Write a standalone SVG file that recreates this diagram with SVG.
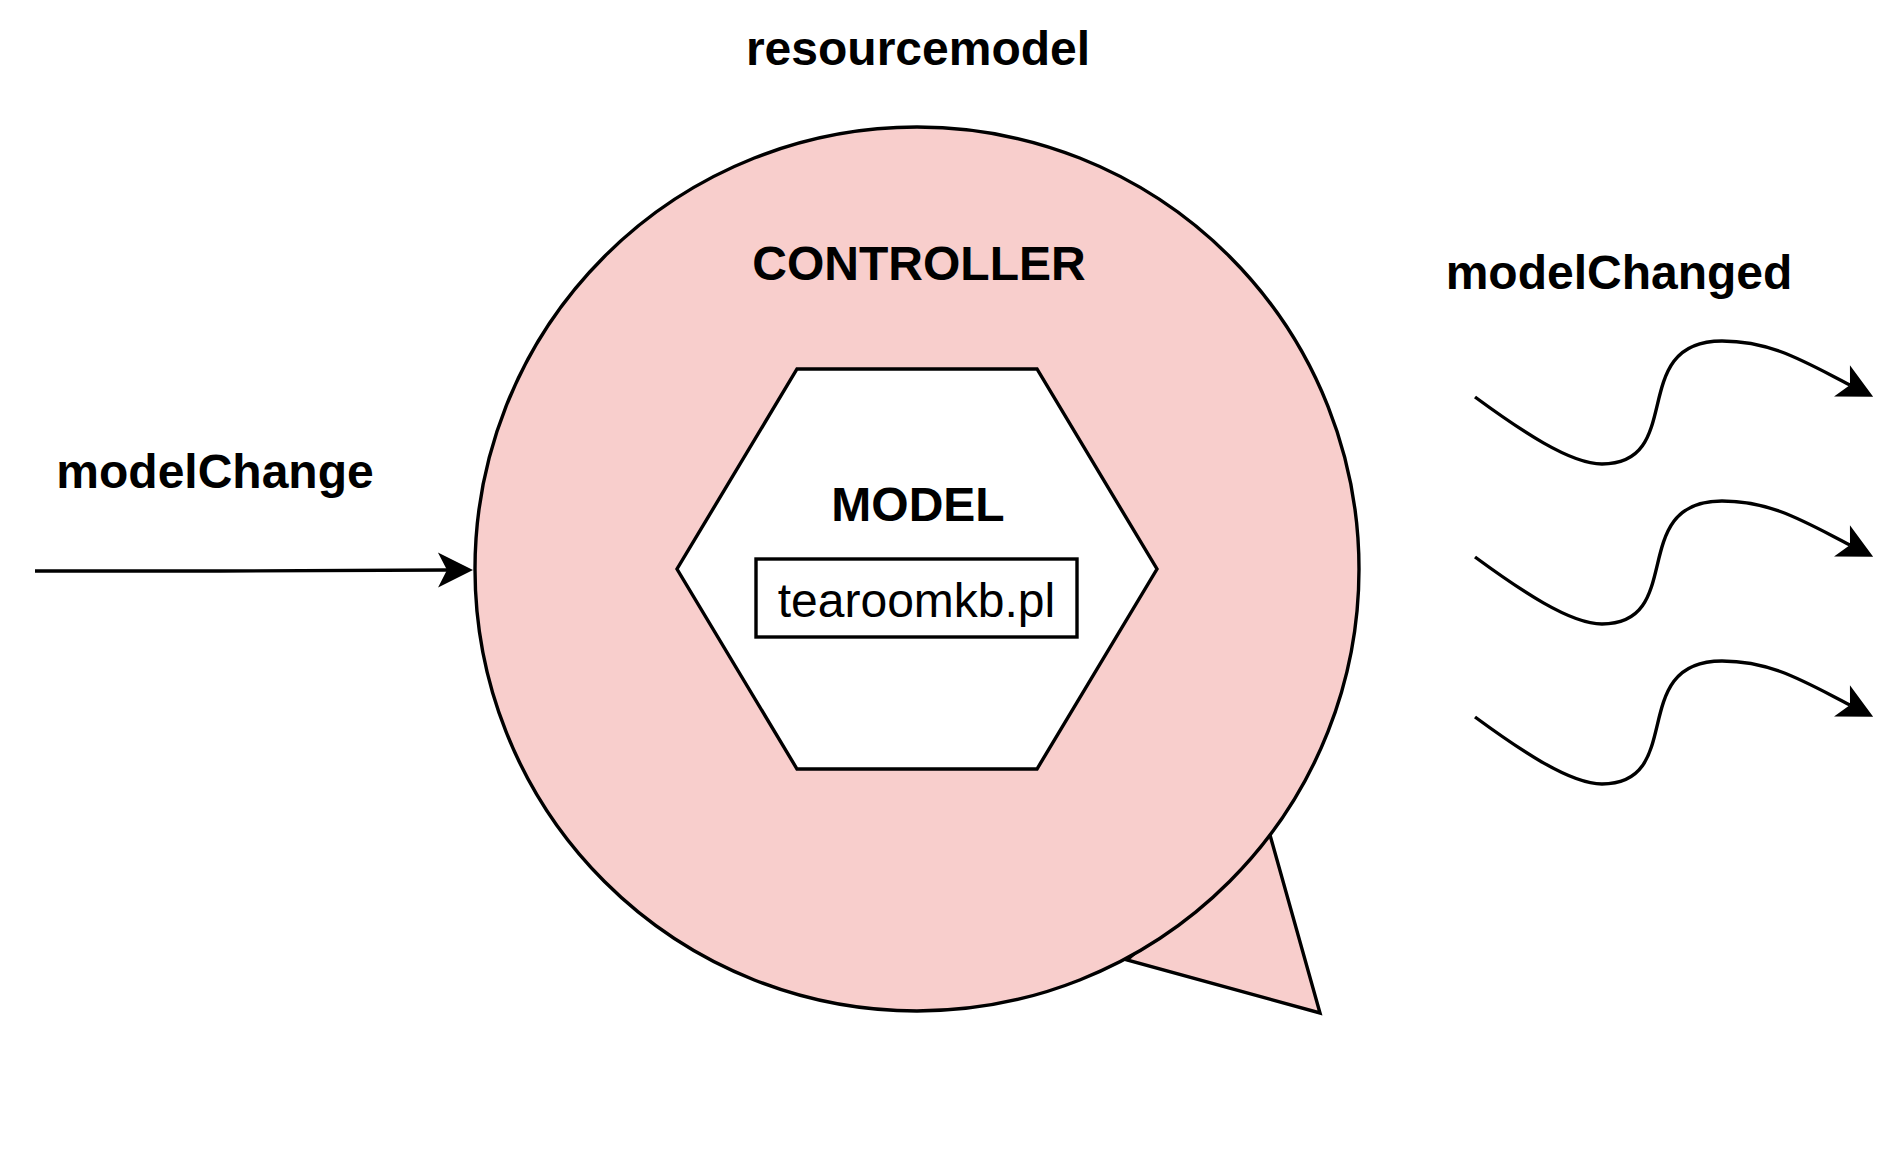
<svg xmlns="http://www.w3.org/2000/svg" width="1882" height="1166" viewBox="0 0 1882 1166">
<style>
.lbl{font-family:"Liberation Sans",Arial,sans-serif;font-weight:bold;font-size:48px;fill:#000;text-anchor:middle}
.reg{font-family:"Liberation Sans",Arial,sans-serif;font-size:48px;fill:#000;text-anchor:middle}
.shape{stroke:#000;stroke-width:3.4}
.edge{fill:none;stroke:#000;stroke-width:3.4}
</style>
<defs>
<marker id="arrow" markerUnits="userSpaceOnUse" markerWidth="36" markerHeight="36" refX="9" refY="17.5" orient="auto" overflow="visible">
<path d="M35,17.5 L0,0 L9,17.5 L0,35 Z" fill="#000"/>
</marker>
</defs>
<rect width="1882" height="1166" fill="#fff"/>
<g id="label-resourcemodel"><text class="lbl" x="918" y="65">resourcemodel</text></g>
<g id="controller">
<polygon class="shape" fill="#f8cecc" points="1270,835 1320,1013 1127,960"/>
<circle class="shape" fill="#f8cecc" cx="917" cy="569" r="442"/>
<text class="lbl" x="919" y="280">CONTROLLER</text>
</g>
<g id="model">
<polygon class="shape" fill="#fff" points="797,369 1037,369 1157,569 1037,769 797,769 677,569"/>
<text class="lbl" x="918" y="521">MODEL</text>
</g>
<g id="tearoomkb">
<rect class="shape" fill="#fff" x="756" y="559" width="321" height="78"/>
<text class="reg" x="916.5" y="617">tearoomkb.pl</text>
</g>
<g id="label-modelChange"><text class="lbl" x="215" y="488">modelChange</text></g>
<g id="label-modelChanged"><text class="lbl" x="1619" y="289">modelChanged</text></g>
<g id="connectors">
<path class="edge" d="M35,571 L220,571 L447,570" marker-end="url(#arrow)"/>
<path class="edge" d="M1475,397 C1520,430 1570,464 1602,464 C1687,464 1626,341 1722,341 C1772,341 1805.5,362.3 1850,385" marker-end="url(#arrow)"/>
<path class="edge" d="M1475,557 C1520,590 1570,624 1602,624 C1687,624 1626,501 1722,501 C1772,501 1805.5,522.3 1850,545" marker-end="url(#arrow)"/>
<path class="edge" d="M1475,717 C1520,750 1570,784 1602,784 C1687,784 1626,661 1722,661 C1772,661 1805.5,682.3 1850,705" marker-end="url(#arrow)"/>
</g>
</svg>
